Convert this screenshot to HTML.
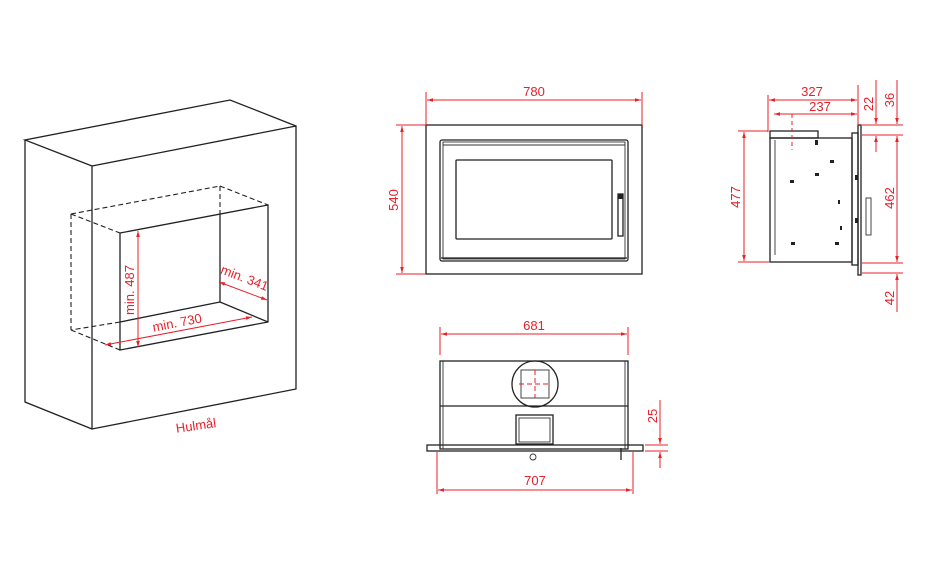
<!DOCTYPE html>
<html><head><meta charset="utf-8"><style>
html,body{margin:0;padding:0;background:#fff;}
svg{display:block;}
text{font-family:"Liberation Sans","DejaVu Sans",sans-serif;fill:#e8202a;font-size:13px;}
.k{stroke:#222;fill:none;stroke-width:1.3;}
.kt{stroke:#333;fill:none;stroke-width:0.9;}
.r{stroke:#e8202a;fill:none;stroke-width:1;}
.d{stroke:#222;fill:none;stroke-width:1.1;stroke-dasharray:5,3;}
</style></head><body>
<svg width="950" height="578" viewBox="0 0 950 578" xmlns="http://www.w3.org/2000/svg">
<defs>
<marker id="a" viewBox="0 0 10 10" refX="10" refY="5" markerWidth="9" markerHeight="6" orient="auto-start-reverse"><path d="M0,2 L10,5 L0,8 z" fill="#e8202a"/></marker>
</defs>
<!-- ISO view -->
<polygon class="k" points="92,166 296,126 296,389 92,429"/>
<polyline class="k" points="92,166 25,140 230,100 296,126"/>
<polyline class="k" points="25,140 25,402 92,429"/>
<polygon class="k" points="120,233 268,205 268,322 120,350"/>
<line class="k" x1="220" y1="214" x2="220" y2="302"/>
<line class="k" x1="220" y1="302" x2="268" y2="322"/>
<line class="k" x1="220" y1="302" x2="120" y2="322"/>
<line class="d" x1="120" y1="322" x2="71" y2="330"/>
<line class="d" x1="71" y1="330" x2="120" y2="350"/>
<line class="d" x1="71" y1="214" x2="71" y2="330"/>
<line class="d" x1="71" y1="214" x2="220" y2="186"/>
<line class="d" x1="71" y1="214" x2="120" y2="233"/>
<line class="d" x1="220" y1="186" x2="268" y2="205"/>
<line class="d" x1="220" y1="186" x2="220" y2="214"/>
<line class="r" x1="138" y1="231" x2="138" y2="347" marker-start="url(#a)" marker-end="url(#a)"/>
<text transform="translate(134,290) rotate(-90)" text-anchor="middle">min. 487</text>
<line class="r" x1="105" y1="345" x2="252" y2="317" marker-start="url(#a)" marker-end="url(#a)"/>
<text transform="translate(178,327) rotate(-11)" text-anchor="middle">min. 730</text>
<line class="r" x1="219" y1="282" x2="267" y2="300" marker-start="url(#a)" marker-end="url(#a)"/>
<text transform="translate(243,282) rotate(21)" text-anchor="middle">min. 341</text>
<text x="196" y="430" text-anchor="middle" transform="rotate(-8 196 426)">Hulmål</text>

<!-- Front view -->
<rect class="k" x="426" y="125" width="216" height="149"/>
<rect class="k" x="440" y="140" width="188" height="121" rx="2"/>
<rect class="kt" x="443" y="142" width="182" height="117"/>
<line class="k" x1="441" y1="258" x2="627" y2="258" stroke-width="2"/>
<line class="kt" x1="443" y1="145" x2="625" y2="145"/>
<rect class="k" x="456" y="160" width="156" height="79" rx="1"/>
<rect class="k" x="618" y="194" width="5" height="42"/>
<rect x="618" y="194" width="5" height="5" fill="#222"/>
<line class="r" x1="426" y1="92" x2="426" y2="125"/><line class="r" x1="642" y1="92" x2="642" y2="125"/>
<line class="r" x1="427" y1="100" x2="641" y2="100" marker-start="url(#a)" marker-end="url(#a)"/>
<text x="534" y="96" text-anchor="middle">780</text>
<line class="r" x1="396" y1="125" x2="426" y2="125"/><line class="r" x1="396" y1="274" x2="426" y2="274"/>
<line class="r" x1="402" y1="126" x2="402" y2="273" marker-start="url(#a)" marker-end="url(#a)"/>
<text transform="translate(398,200) rotate(-90)" text-anchor="middle">540</text>

<!-- Top view -->
<line class="r" x1="440" y1="327" x2="440" y2="355"/><line class="r" x1="628" y1="327" x2="628" y2="355"/>
<line class="r" x1="441" y1="334" x2="627" y2="334" marker-start="url(#a)" marker-end="url(#a)"/>
<text x="534" y="330" text-anchor="middle">681</text>
<rect class="k" x="440" y="361" width="188" height="88"/>
<line class="k" x1="440" y1="406" x2="628" y2="406" stroke-width="2.5"/>
<line class="kt" x1="443" y1="361" x2="443" y2="449"/><line class="kt" x1="625" y1="361" x2="625" y2="449"/>
<circle cx="535" cy="384" r="23" class="k" stroke-width="3"/>
<rect class="kt" x="521" y="370" width="28" height="28"/>
<line class="r" x1="519" y1="384" x2="551" y2="384" stroke-dasharray="5,3"/>
<line class="r" x1="535" y1="370" x2="535" y2="398" stroke-dasharray="5,3"/>
<rect class="k" x="516" y="415" width="37" height="29"/>
<rect class="kt" x="519" y="418" width="31" height="24"/>
<rect class="k" x="427" y="445" width="216" height="6"/>
<circle cx="533" cy="457" r="3" class="kt"/>
<line class="k" x1="621" y1="448" x2="621" y2="460" stroke-width="3"/>
<line class="r" x1="437" y1="452" x2="437" y2="494"/><line class="r" x1="633" y1="452" x2="633" y2="494"/>
<line class="r" x1="438" y1="490" x2="632" y2="490" marker-start="url(#a)" marker-end="url(#a)"/>
<text x="535" y="485" text-anchor="middle">707</text>
<line class="r" x1="645" y1="445" x2="668" y2="445"/><line class="r" x1="645" y1="451" x2="668" y2="451"/>
<line class="r" x1="660" y1="400" x2="660" y2="444" marker-end="url(#a)"/>
<line class="r" x1="660" y1="468" x2="660" y2="452" marker-end="url(#a)"/>
<text transform="translate(657,416) rotate(-90)" text-anchor="middle">25</text>

<!-- Side view -->
<rect class="k" x="770" y="138" width="82" height="124"/>
<rect class="k" x="770" y="131" width="48" height="7"/>
<line class="kt" x1="775" y1="140" x2="775" y2="255"/>
<rect class="k" x="852" y="133" width="6" height="132"/>
<rect class="k" x="858" y="125" width="3" height="150" fill="#222"/>
<rect class="kt" x="866" y="198" width="5" height="37"/>
<g fill="#222"><rect x="815" y="140" width="3" height="5"/><rect x="830" y="160" width="4" height="3"/><rect x="790" y="180" width="4" height="3"/><rect x="815" y="173" width="4" height="3"/><rect x="838" y="200" width="2" height="4"/><rect x="840" y="226" width="2" height="4"/><rect x="791" y="242" width="4" height="3"/><rect x="835" y="242" width="4" height="3"/><rect x="855" y="175" width="3" height="5"/><rect x="855" y="218" width="3" height="5"/></g>
<line class="r" x1="792" y1="114" x2="792" y2="150" stroke-dasharray="4,3"/>
<line class="r" x1="768" y1="95" x2="768" y2="132"/>
<line class="r" x1="769" y1="100" x2="857" y2="100" marker-start="url(#a)" marker-end="url(#a)"/>
<text x="812" y="96" text-anchor="middle">327</text>
<line class="r" x1="774" y1="114" x2="857" y2="114" marker-start="url(#a)" marker-end="url(#a)"/>
<text x="820" y="111" text-anchor="middle">237</text>
<line class="r" x1="738" y1="131" x2="768" y2="131"/><line class="r" x1="738" y1="262" x2="770" y2="262"/>
<line class="r" x1="744" y1="132" x2="744" y2="261" marker-start="url(#a)" marker-end="url(#a)"/>
<text transform="translate(740,197) rotate(-90)" text-anchor="middle">477</text>
<line class="r" x1="858" y1="85" x2="858" y2="125"/>
<line class="r" x1="862" y1="125" x2="903" y2="125"/><line class="r" x1="862" y1="135" x2="903" y2="135"/>
<line class="r" x1="862" y1="263" x2="903" y2="263"/><line class="r" x1="862" y1="273" x2="903" y2="273"/>
<line class="r" x1="876" y1="80" x2="876" y2="124" marker-end="url(#a)"/>
<line class="r" x1="876" y1="152" x2="876" y2="136" marker-end="url(#a)"/>
<text transform="translate(873,104) rotate(-90)" text-anchor="middle">22</text>
<line class="r" x1="897" y1="80" x2="897" y2="124" marker-end="url(#a)"/>
<text transform="translate(894,100) rotate(-90)" text-anchor="middle">36</text>
<line class="r" x1="897" y1="136" x2="897" y2="262" marker-start="url(#a)" marker-end="url(#a)"/>
<text transform="translate(894,198) rotate(-90)" text-anchor="middle">462</text>
<line class="r" x1="897" y1="312" x2="897" y2="274" marker-end="url(#a)"/>
<text transform="translate(894,298) rotate(-90)" text-anchor="middle">42</text>
</svg>
</body></html>
